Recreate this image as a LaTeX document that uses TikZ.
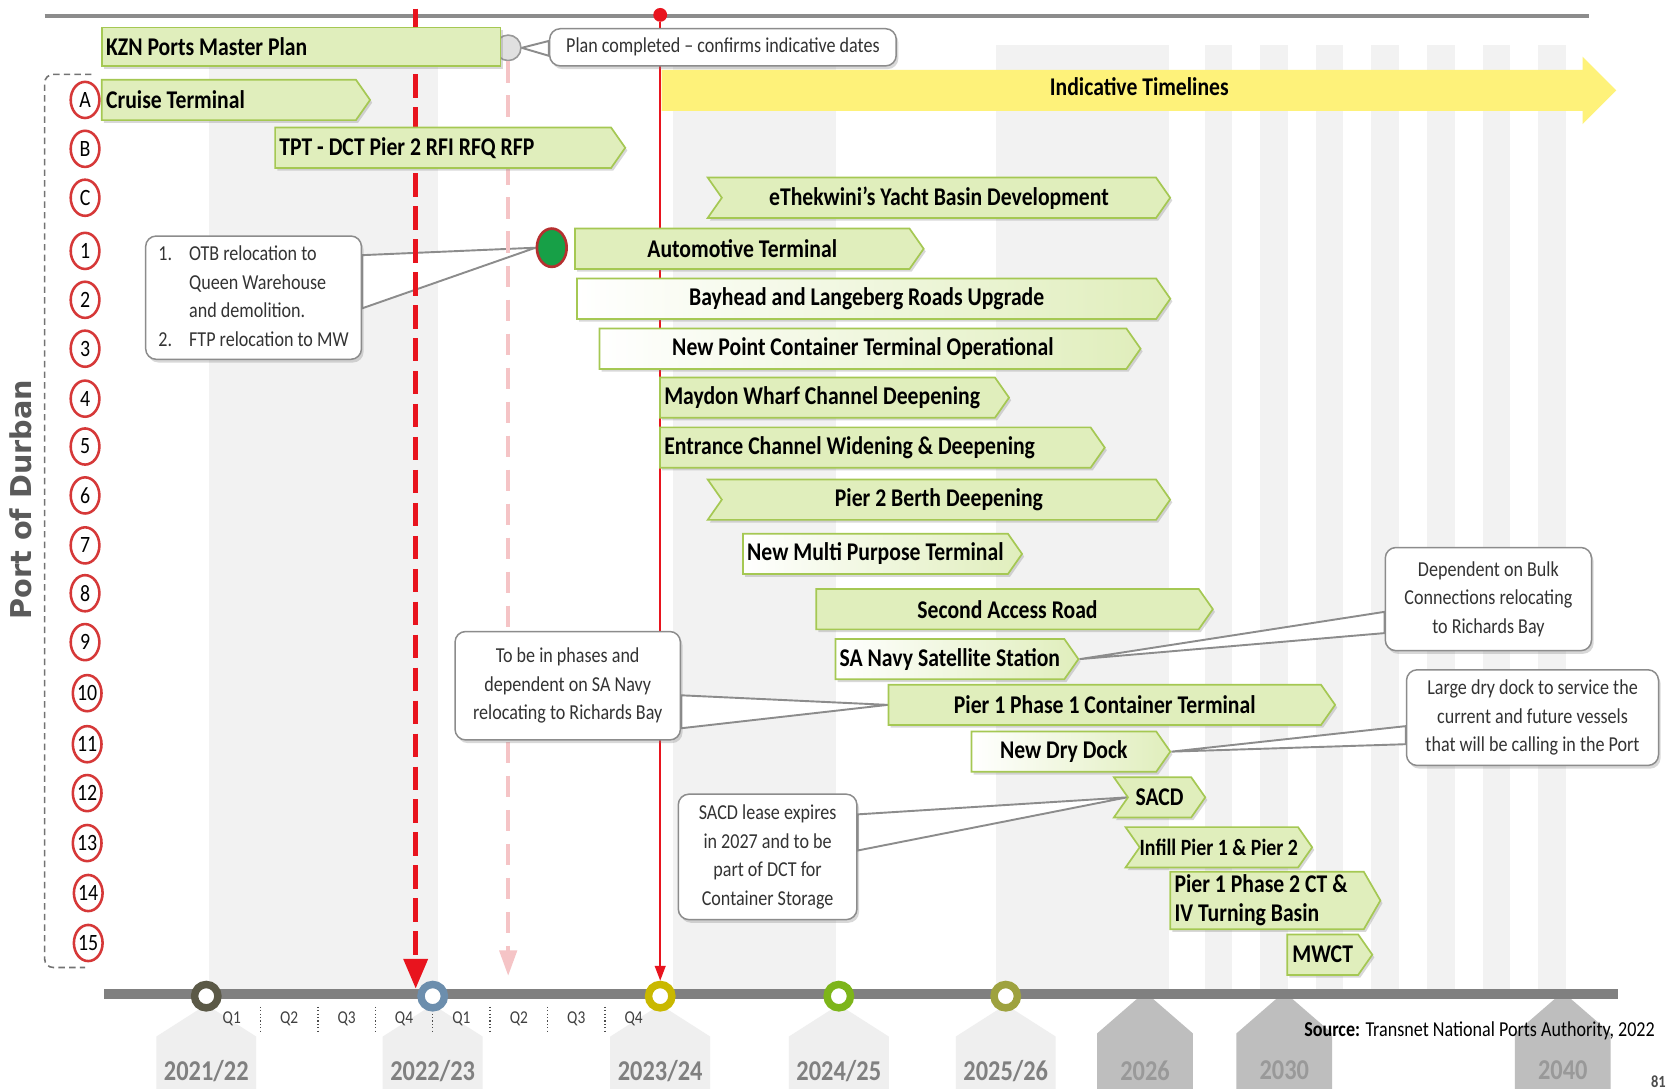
\documentclass[tikz,border=0pt]{standalone}
\usepackage{fontspec}
\setmainfont{Carlito}[FakeStretch=0.85]
\newfontfamily\durbanfont{DejaVu Sans}
\usepackage{xcolor}
\usepackage{tikz}
\usetikzlibrary{arrows.meta,shapes.geometric,shapes.symbols,shapes.arrows,shadows}
\definecolor{bargreen}{HTML}{E0EEBC}
\definecolor{baredge}{HTML}{A5C853}
\definecolor{colgray}{HTML}{F2F2F2}
\definecolor{axisgray}{HTML}{808080}
\definecolor{cutred}{HTML}{E8141E}
\definecolor{pinkred}{HTML}{F5C4C6}
\definecolor{timeyellow}{HTML}{FEF27A}
\definecolor{noteedge}{HTML}{8C8C8C}
\definecolor{durbangray}{HTML}{5A5A5A}
\definecolor{ringred}{HTML}{D63838}
\definecolor{otbgreen}{HTML}{17A047}
\definecolor{mkolive}{HTML}{5B5947}
\definecolor{mkblue}{HTML}{6C8EAD}
\definecolor{mkmustard}{HTML}{C9B800}
\definecolor{mkgreen}{HTML}{7DB51A}
\definecolor{mksage}{HTML}{9EA23F}
\definecolor{yearlight}{HTML}{EFEFEF}
\definecolor{yeardark}{HTML}{BEBEBE}
\pgfdeclarelayer{bg}
\pgfdeclarelayer{tails}
\pgfsetlayers{bg,tails,main}
\newcommand{\barfont}{\fontsize{24}{27}\selectfont\bfseries}
\newcommand{\notefont}{\fontsize{20}{27}\selectfont}
\newcommand{\planbar}[5]{
    \node[#1, minimum width=#4, anchor=west] (#2) at (#3) {#5};
}

\begin{document}
\begin{tikzpicture}[x=1pt, y=-1pt, >=Latex,
    gbar/.style={signal, signal to=east, signal pointer angle=110, draw=baredge, line width=1.6pt, fill=bargreen, minimum height=38pt, inner xsep=4pt, inner ysep=4pt, font=\barfont, text=black, drop shadow={shadow xshift=2pt, shadow yshift=-2.5pt, opacity=0.3}},
    notchbar/.style={gbar, signal from=west},
    fadebar/.style={gbar, left color=white, right color=bargreen},
    leftbar/.style={text width=#1, align=flush left},
    notebox/.style={draw=noteedge, line width=1.4pt, fill=white, rounded corners=10pt, align=center, font=\notefont, text=black!80, drop shadow={shadow xshift=2pt, shadow yshift=-3pt, opacity=0.3}},
    tail/.style={draw=noteedge, line width=1.8pt, fill=white},
    rowmark/.style={ellipse, draw=ringred, line width=2.4pt, fill=white, minimum width=27pt, minimum height=34pt, inner sep=0pt, font=\fontsize{22}{22}\selectfont},
    axismark/.style={circle, draw=#1, line width=7pt, fill=white, minimum size=22pt, inner sep=0pt},
    qlab/.style={font=\fontsize{17}{17}\selectfont, text=black!75},
    yearlab/.style={font=\fontsize{27}{27}\selectfont\bfseries, text=#1},
    cutline/.style={cutred, line width=5pt, dash pattern=on 22pt off 9pt, -{Triangle[length=28pt,width=22pt]}},
    pinkline/.style={pinkred, line width=4pt, dash pattern=on 20pt off 12pt, -{Triangle[length=24pt,width=16pt]}},
    nowline/.style={cutred, line width=2pt, -{Triangle[length=14pt,width=10pt]}}
]
    \useasboundingbox (0,0) rectangle (1568,1024);
    \begin{pgfonlayer}{bg}
        \fill[white] (0,0) rectangle (1568,1024);
        \fill[colgray] (197,42) rectangle (412,930);
        \fill[colgray] (633,42) rectangle (786,930);
        \fill[colgray] (937,42) rectangle (1100,930);
        \foreach \i in {0,...,6}
            \fill[colgray] ({1133+52.3*\i},42) rectangle ++(26,888);
    \end{pgfonlayer}

    \draw[black!45, line width=3pt] (42,15) -- (1495,15);

    \foreach \x in {194,407,621,789,946}
        \fill[yearlight] (\x-47,1030) -- (\x-47,975) -- (\x,945) -- (\x+47,975) -- (\x+47,1030) -- cycle;
    \foreach \x in {1077,1208,1470}
        \fill[yeardark] (\x-45,1030) -- (\x-45,972) -- (\x,933) -- (\x+45,972) -- (\x+45,1030) -- cycle;

    \coordinate (axisL) at (98,935);
    \coordinate (axisR) at (1522,935);
    \draw[axisgray, line width=10pt] (axisL) -- (axisR);
    \foreach \q [count=\i] in {1,2,3,4,1,2,3,4}
        \node[qlab] (q\i) at ({164+54*\i},958) {Q\q};
    \foreach \i in {1,...,7}
        \draw[black!70, line width=1.2pt, dotted] ({191+54*\i},947) -- ++(0,24);
    \foreach \x/\c/\n in {194/mkolive/a, 407/mkblue/b, 621/mkmustard/c, 789/mkgreen/d, 946/mksage/e}
        \node[axismark=\c] (mk\n) at (\x,937) {};

    \node[single arrow, fill=timeyellow, single arrow head extend=12.5pt, minimum height=898pt, text height=14pt, text depth=5pt, inner ysep=9.5pt, inner xsep=0pt, font=\barfont, anchor=west] (indic) at (622,85) {\hspace*{20pt}Indicative Timelines};

    \node[circle, fill=cutred, minimum size=13pt, inner sep=0pt] (nowdot) at (621,14) {};
    \node[circle, fill=black!12, draw=black!40, line width=1.5pt, minimum size=24pt, inner sep=0pt] (kzndot) at (478,45) {};
    \coordinate (cuttop) at (391,8);
    \coordinate (cutend) at (391,930);
    \coordinate (pinkend) at (478,918);
    \draw[pinkline] (kzndot) -- (pinkend);
    \draw[cutline] (cuttop) -- (cutend);
    \draw[nowline] (nowdot) -- (mkc.north);

    \draw[black!55, line width=1.5pt, dash pattern=on 6pt off 4pt, rounded corners=8pt] (86,70) -- (42,70) -- (42,910) -- (80,910);
    \node[rotate=90, font=\fontsize{27}{27}\selectfont\durbanfont\bfseries, text=durbangray] (portlab) at (20,470) {Port of Durban};
    \foreach \lab/\x/\y in {A/80/94, B/80/140, C/80/186, 1/80/236, 2/80/282, 3/80/328, 4/80/375, 5/80/420, 6/80/466, 7/80/513, 8/80/558, 9/80/604, 10/82/652, 11/82/700, 12/82/746, 13/82/793, 14/83/840, 15/83/887}
        \node[rowmark] (row\lab) at (\x,\y) {\lab};

    \planbar{gbar, rectangle, minimum height=36pt, leftbar=367pt}{kzn}{95,44}{375pt}{KZN Ports Master Plan}
    \planbar{gbar, leftbar=231pt}{cruise}{95,94}{252pt}{Cruise Terminal}
    \planbar{gbar, leftbar=308pt}{tpt}{258,139}{329pt}{TPT - DCT Pier 2 RFI RFQ RFP}
    \planbar{notchbar}{yacht}{678,186}{435pt}{eThekwini’s Yacht Basin Development}
    \planbar{gbar}{auto}{540,234}{328pt}{Automotive Terminal}
    \planbar{fadebar}{bayhead}{542,281}{558pt}{Bayhead and Langeberg Roads Upgrade}
    \planbar{fadebar}{newpoint}{563,328}{509pt}{New Point Container Terminal Operational}
    \planbar{gbar, leftbar=307pt}{maydon}{620,374}{328pt}{Maydon Wharf Channel Deepening}
    \planbar{gbar, leftbar=397pt}{entrance}{620,421}{418pt}{Entrance Channel Widening \& Deepening}
    \planbar{notchbar}{pier2}{678,470}{435pt}{Pier 2 Berth Deepening}
    \planbar{fadebar}{nmpt}{698,521}{254pt}{New Multi Purpose Terminal}
    \planbar{gbar}{access}{767,573}{373pt}{Second Access Road}
    \planbar{fadebar}{sanavy}{785,620}{220pt}{SA Navy Satellite Station}
    \planbar{gbar}{pierone}{835,663}{420pt}{Pier 1 Phase 1 Container Terminal}
    \planbar{fadebar}{drydock}{913,707}{187pt}{New Dry Dock}
    \planbar{notchbar}{sacd}{1060,750}{86pt}{SACD}
    \planbar{notchbar, inner xsep=0pt, font=\fontsize{22}{26}\selectfont\bfseries}{infill}{1071,797}{172pt}{Infill Pier 1 \& Pier 2}
    \planbar{gbar, signal pointer angle=120, leftbar=174pt, minimum height=54pt, inner ysep=1pt}{piertwo}{1100,847}{197pt}{Pier 1 Phase 2 CT \&\\IV Turning Basin}
    \planbar{gbar}{mwct}{1210,898}{80pt}{MWCT}

    \node[ellipse, fill=otbgreen, draw=ringred!85!black, line width=2.5pt, minimum width=28pt, minimum height=36pt, inner sep=0pt] (otbdot) at (519,233) {};

    \node[notebox, minimum width=326pt, minimum height=35pt, inner ysep=2pt] (plannote) at (680,44.5) {Plan completed – confirms indicative dates};
    \node[notebox, minimum width=203pt, minimum height=116pt, align=left] (otbnote) at (238.5,280) {\begin{tabular}{@{}l@{\hspace{16pt}}l@{}}1. & OTB relocation to\\ & Queen Warehouse\\ & and demolition.\\2. & FTP relocation to MW\end{tabular}};
    \node[notebox, minimum width=212pt, minimum height=102pt] (phasenote) at (534,645) {To be in phases and\\dependent on SA Navy\\relocating to Richards Bay};
    \node[notebox, minimum width=168pt, minimum height=118pt] (sacdnote) at (722,806) {SACD lease expires\\in 2027 and to be\\part of DCT for\\Container Storage};
    \node[notebox, minimum width=194pt, minimum height=97pt] (bulknote) at (1400,563.5) {Dependent on Bulk\\Connections relocating\\to Richards Bay};
    \node[notebox, minimum width=237pt, minimum height=90pt, inner xsep=2pt] (docknote) at (1441.5,675) {Large dry dock to service the\\current and future vessels\\that will be calling in the Port};

    \begin{pgfonlayer}{tails}
        \filldraw[tail] ([yshift=6pt]plannote.west) -- (kzndot.east) -- ([yshift=-8pt]plannote.west) -- cycle;
        \filldraw[tail] ([yshift=40pt]otbnote.east) -- (otbdot.west) -- ([yshift=-10pt]otbnote.east) -- cycle;
        \filldraw[tail] ([yshift=-9pt]phasenote.east) -- (pierone.west) -- ([yshift=-40pt]phasenote.east) -- cycle;
        \filldraw[tail] ([yshift=40pt]sacdnote.east) -- (sacd.west) -- ([yshift=6pt]sacdnote.east) -- cycle;
        \filldraw[tail] ([yshift=-12pt]bulknote.west) -- (sanavy.east) -- ([yshift=-32pt]bulknote.west) -- cycle;
        \filldraw[tail] ([yshift=-8pt]docknote.west) -- (drydock.east) -- ([yshift=-25pt]docknote.west) -- cycle;
    \end{pgfonlayer}

    \foreach \x/\ya/\yb in {194/2021/22, 407/2022/23, 621/2023/24, 789/2024/25, 946/2025/26}
        \node[yearlab=black!50] (yr\ya) at (\x,1007) {\ya/\yb};
    \foreach \x/\yr in {1077/2026, 1208/2030, 1470/2040}
        \node[yearlab=black!40] (yr\yr) at (\x,1007) {\yr};
    \node[anchor=east, font=\fontsize{20}{20}\selectfont] (srcnote) at (1560,970) {\textbf{Source:} Transnet National Ports Authority, 2022};
    \node[anchor=south east, inner sep=1pt, font=\fontsize{16}{16}\selectfont\bfseries, text=black!70] (pagenum) at (1568,1024) {81};
\end{tikzpicture}
\end{document}
